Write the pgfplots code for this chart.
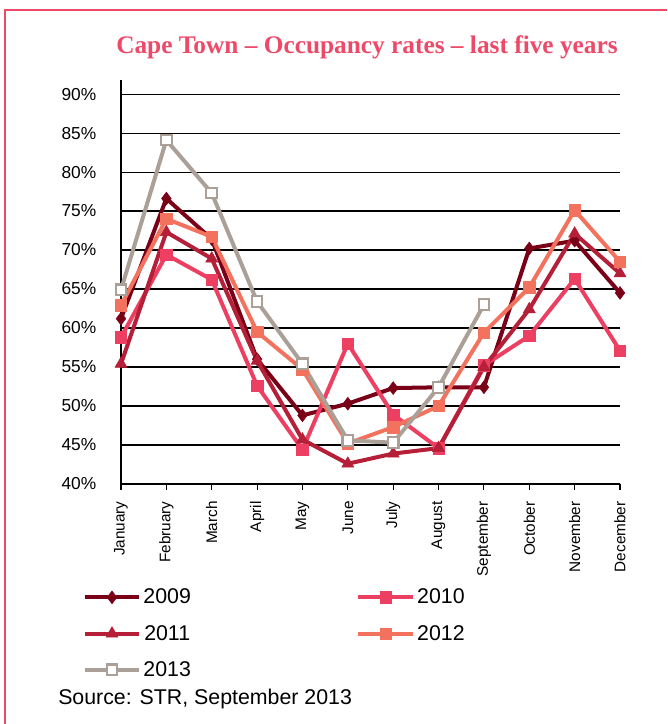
\documentclass[border=0pt]{standalone}
\usepackage{fontspec}
\setmainfont{Liberation Sans}
\newfontfamily\titlefont{Liberation Serif}
\usepackage{pgfplots}
\pgfplotsset{compat=1.18}
\definecolor{framepink}{HTML}{EC4A68}
\definecolor{cA}{HTML}{7A0018}
\definecolor{cB}{HTML}{EC3F62}
\definecolor{cC}{HTML}{B51F38}
\definecolor{cD}{HTML}{F2725E}
\definecolor{cE}{HTML}{ABA098}
\begin{document}
\begin{tikzpicture}
\begin{scope}[x=0.75pt,y=-0.75pt]
\useasboundingbox (0,0) rectangle (667,724);
\draw[framepink, line width=2.2pt] (5,724) -- (5,10) -- (667,10);
\node[font=\titlefont\bfseries\fontsize{19}{21}\selectfont, text=framepink] at (367,47) {Cape Town – Occupancy rates – last five years};
\node[anchor=west, inner sep=0pt, font=\fontsize{16}{18}\selectfont] at (58,699) {Source: STR, September 2013};
\end{scope}
\begin{axis}[
  at={(90.75pt,-363pt)}, anchor=south west,
  scale only axis, width=374.25pt, height=303pt,
  xmin=0, xmax=11, ymin=40, ymax=91.8,
  clip=false,
  axis x line=bottom, axis y line=left,
  x axis line style={-, line width=1.8pt},
  y axis line style={-, line width=1.1pt},
  xtick={0,...,11},
  xticklabels={January,February,March,April,May,June,July,August,September,October,November,December},
  xticklabel style={rotate=90, anchor=east, font=\fontsize{11.5}{13}\selectfont},
  xticklabel shift=5pt,
  tick align=outside, major tick length=4.5pt,
  xtick style={black, line width=0.8pt},
  ytick={40,45,...,90},
  yticklabel={\pgfmathprintnumber{\tick}\%},
  yticklabel style={font=\fontsize{13}{15}\selectfont, xshift=-10.5pt},
  ytick style={draw=none},
  /pgf/number format/assume math mode=true,
  ymajorgrids, grid style={black, line width=0.8pt},
  every axis plot/.append style={line width=3pt},
  legend columns=2,
  legend image code/.code={\draw[mark repeat=2,mark phase=2,#1] plot coordinates {(0pt,0pt) (20.6pt,0pt) (41.2pt,0pt)};},
  legend style={at={(-0.0776,-0.2525)}, anchor=north west, draw=none, fill=none, inner sep=0pt,
    font=\fontsize{16}{18}\selectfont, row sep=10.5pt,
    /tikz/every even column/.append style={column sep=122pt},
    /tikz/every odd column/.append style={column sep=-0.5pt}},
]
\addplot[cA, mark=diamond*, mark size=4.8pt, mark options={solid, line width=0.4pt}] coordinates {
(0,61.2)(1,76.6)(2,71.4)(3,56.0)(4,48.8)(5,50.3)(6,52.3)(7,52.4)(8,52.4)(9,70.2)(10,71.2)(11,64.5)};
\addlegendentry{2009}
\addplot[cB, mark=square*, mark size=4.3pt, mark options={solid, line width=0.4pt}] coordinates {
(0,58.8)(1,69.4)(2,66.2)(3,52.6)(4,44.4)(5,58.0)(6,48.9)(7,44.6)(8,55.2)(9,59.0)(10,66.3)(11,57.1)};
\addlegendentry{2010}
\addplot[cC, mark=triangle*, mark size=5.2pt, mark options={solid, line width=0.4pt}] coordinates {
(0,55.4)(1,72.3)(2,68.9)(3,55.8)(4,45.7)(5,42.6)(6,43.9)(7,44.6)(8,55.0)(9,62.4)(10,72.1)(11,67.0)};
\addlegendentry{2011}
\addplot[cD, mark=square*, mark size=4.3pt, mark options={solid, line width=0.4pt}] coordinates {
(0,62.9)(1,74.0)(2,71.7)(3,59.5)(4,54.7)(5,45.2)(6,47.3)(7,50.0)(8,59.4)(9,65.2)(10,75.1)(11,68.5)};
\addlegendentry{2012}
\addplot[cE, mark=square*, mark size=4.0pt, mark options={solid, fill=white, draw=cE, line width=1.6pt}] coordinates {
(0,64.9)(1,84.1)(2,77.3)(3,63.4)(4,55.4)(5,45.6)(6,45.3)(7,52.4)(8,63.0)};
\addlegendentry{2013}
\end{axis}
\end{tikzpicture}
\end{document}
